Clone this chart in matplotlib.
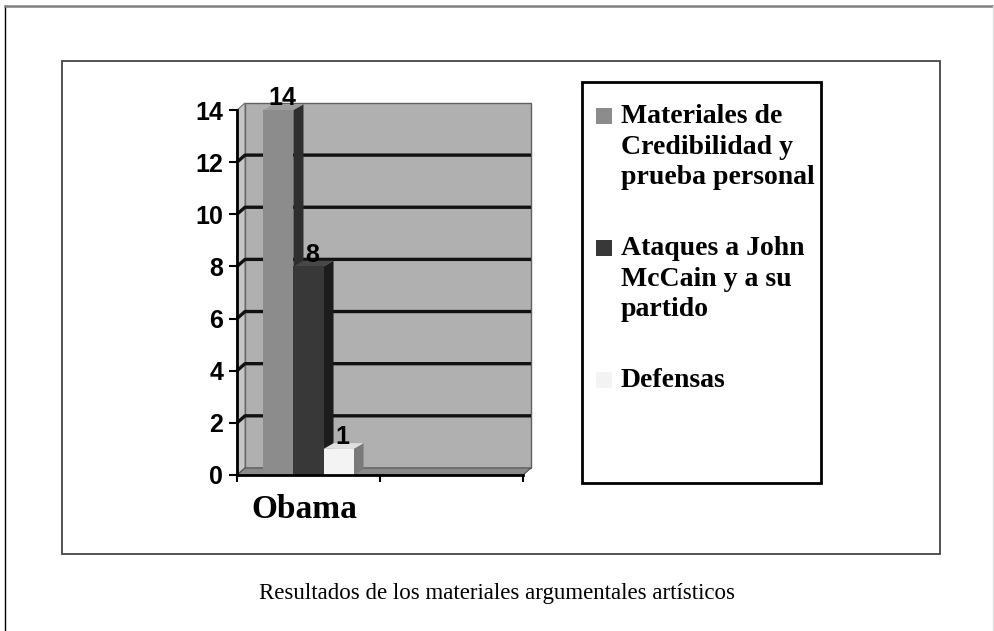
import matplotlib.pyplot as plt
from matplotlib.patches import Rectangle, Polygon
from matplotlib.lines import Line2D

categories = ["Obama", ""]
series = ["Materiales de\nCredibilidad y\nprueba personal",
          "Ataques a John\nMcCain y a su\npartido",
          "Defensas"]
values = [14, 8, 1]
y_ticks = [0, 2, 4, 6, 8, 10, 12, 14]
caption = "Resultados de los materiales argumentales artísticos"

front_colors = ["#8c8c8c", "#383838", "#f3f3f3"]
side_colors = ["#2e2e2e", "#1c1c1c", "#7a7a7a"]
top_colors = ["#9c9c9c", "#474747", "#e0e0e0"]

W, H = 995, 631
fig = plt.figure(figsize=(W / 100, H / 100), dpi=100)
fig.patch.set_facecolor("white")


def fx(x):
    return x / W


def fy(y):
    return 1 - y / H


# page frames
fig.add_artist(Line2D([fx(5), fx(5)], [fy(6), 0], color="black", lw=1))
fig.add_artist(Line2D([fx(5), fx(993)], [fy(6), fy(6)], color="#808080", lw=1.8))
fig.add_artist(Line2D([fx(993), fx(993)], [fy(6), 0], color="#e2e2e2", lw=1))
fig.add_artist(Rectangle((fx(62), fy(554)), fx(940) - fx(62), fy(61) - fy(554),
                         fill=False, edgecolor="#444444", lw=1.3))

ax = fig.add_axes([fx(237), fy(475), fx(523) - fx(237), fy(110) - fy(475)])
ax.set_xlim(0, len(categories))
ax.set_ylim(0, 14)
ax.patch.set_visible(False)

# 3D depth in data units
dx, dy = 0.056, 0.27
bx, by = 0.07, 0.22
n = len(categories)

# back wall, left wall, floor
ax.add_patch(Polygon([(dx, dy), (n + dx, dy), (n + dx, 14 + dy), (dx, 14 + dy)],
                     closed=True, facecolor="#b0b0b0", edgecolor="#606060", lw=1,
                     zorder=1, clip_on=False))
ax.add_patch(Polygon([(0, 0), (0, 14), (dx, 14 + dy), (dx, dy)],
                     closed=True, facecolor="#c6c6c6", edgecolor="#707070", lw=0.8,
                     zorder=1.5, clip_on=False))
for v in y_ticks[1:-1]:
    ax.plot([0, dx, n + dx], [v, v + dy, v + dy], color="#111111", lw=2.4,
            zorder=2, clip_on=False, solid_capstyle="butt")
ax.add_patch(Polygon([(0, 0), (n, 0), (n + dx, dy), (dx, dy)],
                     closed=True, facecolor="#8a8a8a", edgecolor="#505050", lw=0.8,
                     zorder=3, clip_on=False))

# bars
width = 0.21
centers = [0.5 + (i - 1) * width for i in range(len(values))]
for i, (c, v) in enumerate(zip(centers, values)):
    x0, x1 = c - width / 2, c + width / 2
    z = 4 + i
    ax.add_patch(Polygon([(x1, 0), (x1 + bx, by), (x1 + bx, v + by), (x1, v)],
                         closed=True, facecolor=side_colors[i], edgecolor="none",
                         zorder=z, clip_on=False))
    ax.add_patch(Polygon([(x0, v), (x1, v), (x1 + bx, v + by), (x0 + bx, v + by)],
                         closed=True, facecolor=top_colors[i], edgecolor="none",
                         zorder=z, clip_on=False))
    ax.bar(c, v, width=width, color=front_colors[i], edgecolor="none",
           zorder=z + 0.5, clip_on=False)
    ax.text(c + bx / 2 - 0.01, v + 0.45, str(v), ha="center", va="center",
            fontsize=18, fontweight="bold", family="Liberation Sans", zorder=10)

# axes styling
for s in ["top", "right"]:
    ax.spines[s].set_visible(False)
for s in ["left", "bottom"]:
    ax.spines[s].set_linewidth(2)
    ax.spines[s].set_zorder(11)
ax.set_yticks(y_ticks)
ax.set_yticklabels([str(t) for t in y_ticks], fontsize=18, fontweight="bold",
                   family="Liberation Sans")
ax.tick_params(axis="y", direction="out", length=6, width=1.5, pad=4)
ax.set_xticks(range(n + 1))
ax.set_xticklabels([""] * (n + 1))
ax.set_xticks([0.47], minor=True)
ax.set_xticklabels([categories[0]], minor=True, fontsize=24, fontweight="bold",
                   family="Liberation Serif")
ax.tick_params(axis="x", which="major", direction="out", length=5, width=1.5)
ax.tick_params(axis="x", which="minor", length=0, pad=14)

# legend
fig.add_artist(Rectangle((fx(582), fy(483)), fx(821) - fx(582), fy(82) - fy(483),
                         fill=False, edgecolor="black", lw=2))
leg_tops = [108, 240, 372]
for i, (name, t) in enumerate(zip(series, leg_tops)):
    fig.add_artist(Rectangle((fx(596), fy(t + 16)), fx(16), 16 / H,
                             facecolor=front_colors[i], edgecolor="none"))
    fig.text(fx(621), fy(t - 4), name, ha="left", va="top", fontsize=20,
             fontweight="bold", family="Liberation Serif", linespacing=1.3)

fig.text(fx(497), fy(593), caption, ha="center", va="center", fontsize=16.5,
         family="Liberation Serif")

fig.savefig("out.png", dpi=100)
